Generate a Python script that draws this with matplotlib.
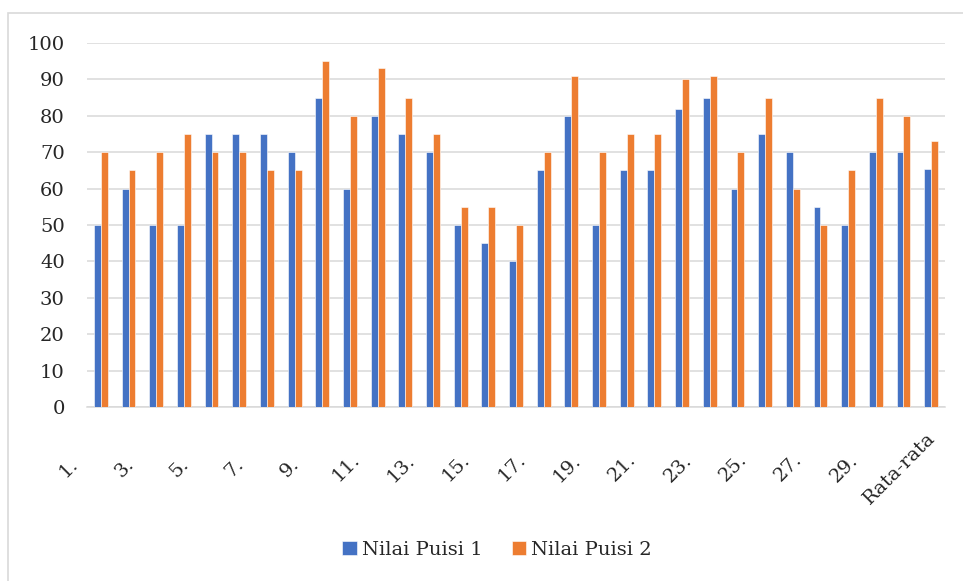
import numpy as np
import matplotlib
matplotlib.use("Agg")
import matplotlib.pyplot as plt
from matplotlib.patches import Rectangle
from matplotlib.transforms import ScaledTranslation

categories = [f"{i}." for i in range(1, 31)] + ["Rata-rata"]
puisi_1 = [50, 60, 50, 50, 75, 75, 75, 70, 85, 60,
           80, 75, 70, 50, 45, 40, 65, 80, 50, 65,
           65, 82, 85, 60, 75, 70, 55, 50, 70, 70, 65.5]
puisi_2 = [70, 65, 70, 75, 70, 70, 65, 65, 95, 80,
           93, 85, 75, 55, 55, 50, 70, 91, 70, 75,
           75, 90, 91, 70, 85, 60, 50, 65, 85, 80, 73]
series_names = ["Nilai Puisi 1", "Nilai Puisi 2"]

BLUE = "#4472C4"
ORANGE = "#ED7D31"
GRID = "#D9D9D9"
TEXT = "#262626"

plt.rcParams["font.family"] = "DejaVu Serif"

fig = plt.figure(figsize=(9.63, 5.81), dpi=100)
ax = fig.add_axes([87 / 963, 1 - 407 / 581, (945 - 87) / 963, (407 - 43) / 581])

x = np.arange(len(categories))
w = 0.25
ax.bar(x - w / 2, puisi_1, w, color=BLUE, edgecolor="white", linewidth=0.4,
       label=series_names[0], zorder=3)
ax.bar(x + w / 2, puisi_2, w, color=ORANGE, edgecolor="white", linewidth=0.4,
       label=series_names[1], zorder=3)

ax.set_xlim(-0.5, len(categories) - 0.5)
ax.set_ylim(0, 100)
ax.set_yticks(range(0, 101, 10))
ax.yaxis.grid(True, color=GRID, linewidth=1.1, zorder=0)
ax.tick_params(axis="y", length=0, pad=16, labelsize=14, labelcolor=TEXT)
for s in ["top", "right", "left"]:
    ax.spines[s].set_visible(False)
ax.spines["bottom"].set_color(GRID)
ax.spines["bottom"].set_linewidth(1.1)

# only every other category gets a label, like the original
shown = x[::2]
ax.set_xticks(shown)
ax.set_xticklabels([categories[i] for i in shown], rotation=45,
                   ha="center", va="center", fontsize=14, color=TEXT)
ax.tick_params(axis="x", length=0, pad=0)
offset = ScaledTranslation(-0.32, -0.61, fig.dpi_scale_trans)
for lab in ax.get_xticklabels():
    lab.set_transform(lab.get_transform() + offset)

fig.legend(loc="center", bbox_to_anchor=(497 / 963, 1 - 550 / 581), ncol=2,
           frameon=False, fontsize=14, handlelength=0.75, handleheight=0.75,
           handletextpad=0.25, columnspacing=1.5, labelcolor=TEXT)

fig.patches.append(Rectangle((8 / 963, -0.1), 1.2, 1.1 - 13 / 581,
                             transform=fig.transFigure, fill=False,
                             edgecolor=GRID, linewidth=1.2, zorder=0))

fig.savefig("out.png", dpi=100, facecolor="white")
